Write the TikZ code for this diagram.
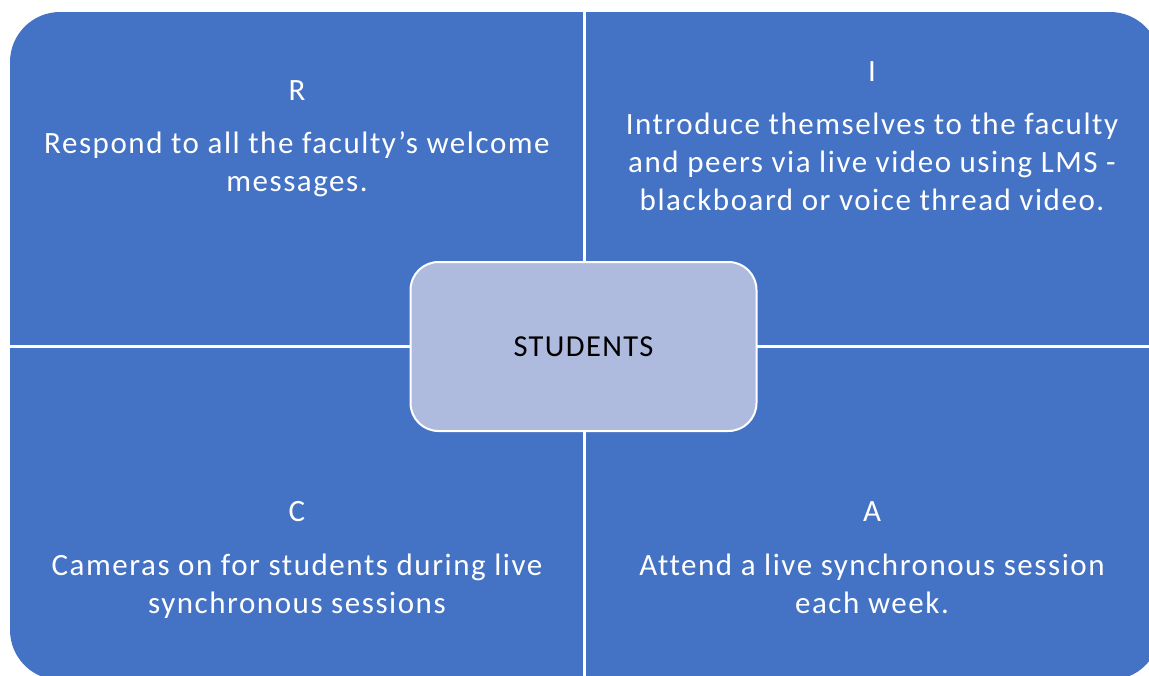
\documentclass[tikz,border=0pt]{standalone}
\usepackage{fontspec}
\setmainfont{Carlito}
\newfontfamily\quadfont{Carlito}[LetterSpace=5,Ligatures=NoCommon]
\newfontfamily\hubfont{Carlito}[LetterSpace=4.5,Ligatures=NoCommon]
\definecolor{quadblue}{HTML}{4472C4}
\definecolor{hubfill}{HTML}{AFBBDE}
\begin{document}
\begin{tikzpicture}[x=1pt,y=-1pt,
  quadtext/.style={text=white,font=\quadfont\fontsize{31}{38}\selectfont,align=center,anchor=base,inner sep=0pt},
  hub/.style={draw=white,line width=2pt,fill=hubfill,rounded corners=28pt,minimum width=346pt,minimum height=169pt,font=\hubfont\fontsize{30.5}{36}\selectfont,text=black},
  divider/.style={draw=white,line width=3pt}]
\useasboundingbox (0,0) rectangle (1149,675);
\begin{scope}
\clip (0,0) rectangle (1149,675);
% outer panel holding the four quadrants
\fill[quadblue,rounded corners=50pt] (10,12) rectangle (1160,680);
\draw[divider] (584,0) -- (584,690);
\draw[divider] (0,346) -- (1170,346);
\end{scope}
% hub in the middle
\node[hub] (hub) at (583.5,346.5) {STUDENTS};
% quadrant R (multi-line nodes sit on the baseline of their last line)
\node[quadtext] (rhead) at (297,100) {R};
\node[quadtext] (rbody) at (297,191) {Respond to all the faculty’s welcome\\messages.};
% quadrant I
\node[quadtext] (ihead) at (872,81) {I};
\node[quadtext] (ibody) at (872,210) {Introduce themselves to the faculty\\and peers via live video using LMS -\\blackboard or voice thread video.};
% quadrant C
\node[quadtext] (chead) at (297,521) {C};
\node[quadtext] (cbody) at (297,613) {Cameras on for students during live\\synchronous sessions};
% quadrant A
\node[quadtext] (ahead) at (872,521) {A};
\node[quadtext] (abody) at (872,613) {Attend a live synchronous session\\each week.};
\end{tikzpicture}
\end{document}
